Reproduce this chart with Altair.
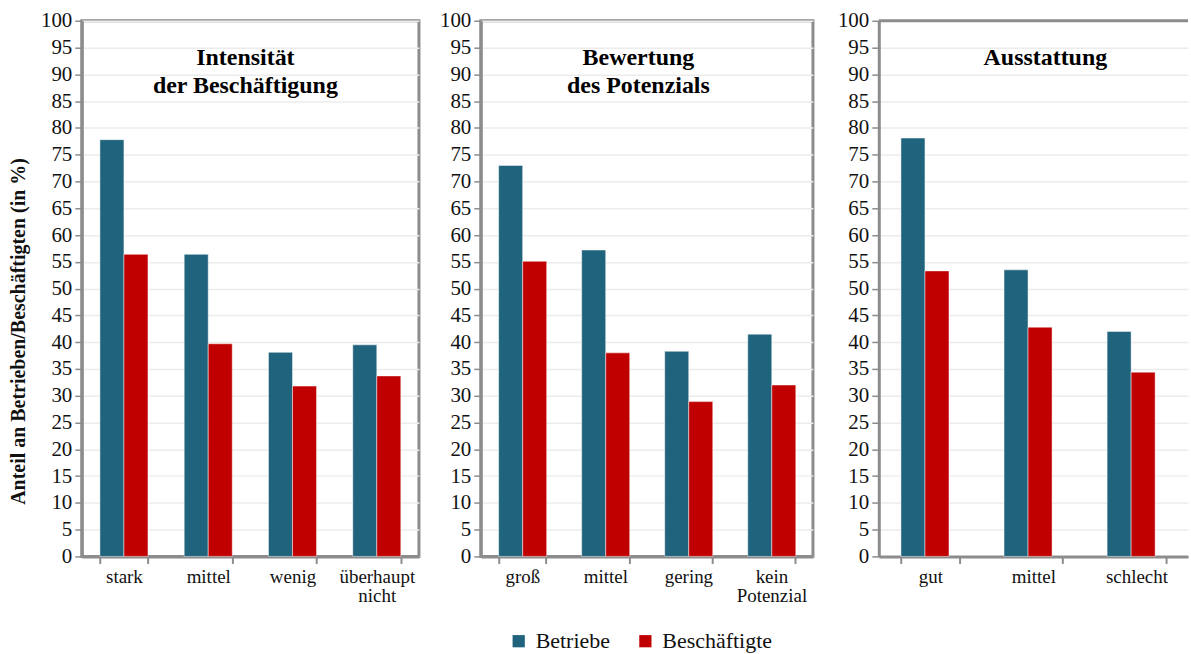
import altair as alt
import pandas as pd

# ---- data ----
cats1 = ["stark", "mittel", "wenig", "überhaupt nicht"]
betriebe1 = [77.8, 56.4, 38.1, 39.5]
beschaeftigte1 = [56.4, 39.7, 31.8, 33.7]

cats2 = ["groß", "mittel", "gering", "kein Potenzial"]
betriebe2 = [73.0, 57.2, 38.3, 41.5]
beschaeftigte2 = [55.1, 38.0, 28.9, 32.0]

cats3 = ["gut", "mittel", "schlecht"]
betriebe3 = [78.1, 53.5, 42.0]
beschaeftigte3 = [53.3, 42.8, 34.4]

series = ["Betriebe", "Beschäftigte"]
colors = ["#1F637C", "#C00000"]
titles = [["Intensität", "der Beschäftigung"], ["Bewertung", "des Potenzials"], ["Ausstattung"]]
yticks = list(range(0, 101, 5))
ytitle = "Anteil an Betrieben/Beschäftigten (in %)"

FONT = "Liberation Serif"
GRAY = "#8c8c8c"
H = 537


def make_df(cats, b, s):
    rows = []
    for c, vb, vs in zip(cats, b, s):
        rows.append({"Kategorie": c, "Serie": series[0], "Wert": vb})
        rows.append({"Kategorie": c, "Serie": series[1], "Wert": vs})
    return pd.DataFrame(rows)


legend = alt.Legend(
    orient="none", legendX=427, legendY=611, direction="horizontal", padding=0,
    symbolType="square", symbolSize=150, symbolStrokeWidth=0,
    labelFont=FONT, labelFontSize=22, labelColor="#111111",
    columnPadding=24, labelOffset=6,
)


def panel(cats, b, s, title, width, title_x, first, open_right):
    df = make_df(cats, b, s)
    if first:
        yaxis = alt.Axis(values=yticks, title=ytitle, titleAngle=270, titleAlign="center",
                         titleBaseline="middle", titleX=-63, titleY=311,
                         titleFont=FONT, titleFontSize=20, titleFontWeight="bold", titleColor="#111111")
    else:
        yaxis = alt.Axis(values=yticks, title=None)
    bars = alt.Chart(df).mark_bar(stroke="white", strokeWidth=0.8, strokeOpacity=0.6).encode(
        x=alt.X("Kategorie:N", sort=cats, title=None,
                scale=alt.Scale(paddingInner=0.43, paddingOuter=0.215),
                axis=alt.Axis(labelAngle=0, labelExpr="split(datum.label, ' ')", tickBand="extent")),
        xOffset=alt.XOffset("Serie:N", sort=series, scale=alt.Scale(paddingInner=0, paddingOuter=0)),
        y=alt.Y("Wert:Q", scale=alt.Scale(domain=[0, 100], nice=False), axis=yaxis),
        color=alt.Color("Serie:N", sort=series, title=None,
                        scale=alt.Scale(domain=series, range=colors), legend=legend),
    )
    one = pd.DataFrame({"r": [0]})
    ttl = alt.Chart(one).mark_text(
        text=title, font=FONT, fontSize=24, fontWeight="bold", lineHeight=28,
        baseline="alphabetic", align="center", color="#000000",
    ).encode(x=alt.value(title_x), y=alt.value(44))
    layers = [bars, ttl]
    if open_right:
        top = alt.Chart(one).mark_rule(color=GRAY, strokeWidth=3).encode(
            x=alt.value(0), x2=alt.value(width), y=alt.value(0))
        layers.append(top)
        return alt.layer(*layers).properties(
            width=width, height=H, view=alt.ViewBackground(stroke="transparent"))
    return alt.layer(*layers).properties(width=width, height=H)


p1 = panel(cats1, betriebe1, beschaeftigte1, titles[0], 338, 164, True, False)
p2 = panel(cats2, betriebe2, beschaeftigte2, titles[1], 333, 158, False, False)
p3 = panel(cats3, betriebe3, beschaeftigte3, titles[2], 310, 167, False, True)

chart = alt.hconcat(p1, alt.hconcat(p2, p3, spacing=21), spacing=17).properties(
    padding={"left": 7, "top": 7, "right": 0, "bottom": 0}
).configure_view(
    stroke=GRAY, strokeWidth=3
).configure_axis(
    domainColor=GRAY, domainWidth=3, tickColor=GRAY,
    labelFont=FONT, labelColor="#111111", gridColor="#ececec", gridWidth=1.5,
).configure_axisX(
    grid=False, labelFontSize=19, tickSize=7, tickWidth=2, labelPadding=4, labelLineHeight=19,
).configure_axisY(
    grid=True, labelFontSize=21, tickSize=7, tickWidth=1.5, labelPadding=3,
)

chart.save("out.html", embed_options={"renderer": "svg", "actions": False})
